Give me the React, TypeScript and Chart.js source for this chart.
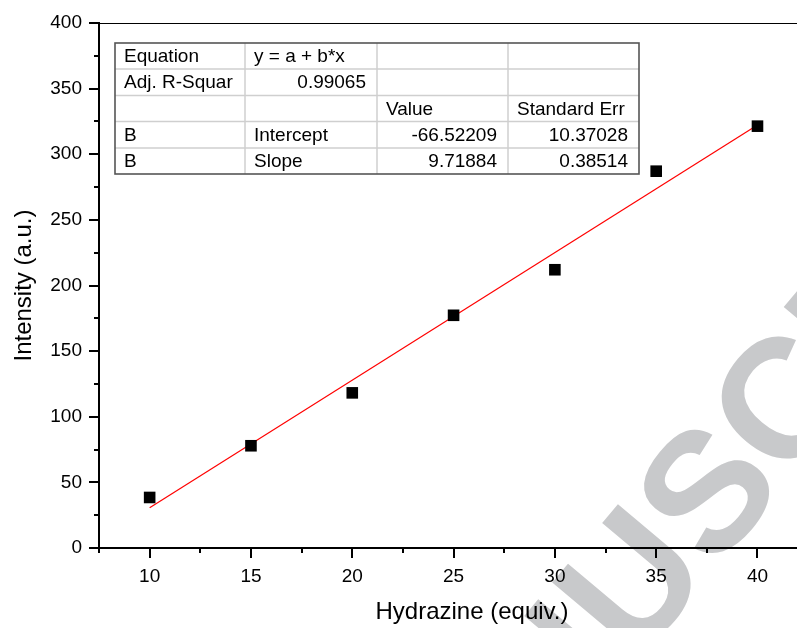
import React, { useEffect, useRef } from "react";
import { Chart, registerables } from "chart.js";

Chart.register(...registerables);

const equivX = [10, 15, 20, 25, 30, 35, 40];
const intensityY = [38.5, 77.9, 118.2, 177.3, 212.0, 287.1, 321.4];
const fitX = [10, 40];
const fitY = [30.7, 322.2];
const xTicks = [10, 15, 20, 25, 30, 35, 40];
const xMinorTicks = [7.5, 12.5, 17.5, 22.5, 27.5, 32.5, 37.5];
const yTicks = [0, 50, 100, 150, 200, 250, 300, 350, 400];
const yMinorTicks = [25, 75, 125, 175, 225, 275, 325, 375];
const tableRows = [
  ["Equation", "y = a + b*x", "", ""],
  ["Adj. R-Squar", "0.99065", "", ""],
  ["", "", "Value", "Standard Err"],
  ["B", "Intercept", "-66.52209", "10.37028"],
  ["B", "Slope", "9.71884", "0.38514"],
];
const xTitle = "Hydrazine (equiv.)";
const yTitle = "Intensity (a.u.)";
const watermark = "ACCEPTED MANUSCRIPT";

const FONT = "'Liberation Sans', Arial, Helvetica, sans-serif";

const watermarkPlugin = {
  id: "watermark",
  beforeDraw(chart: any) {
    const ctx = chart.ctx;
    const size = 170;
    ctx.save();
    ctx.font = `bold ${size}px ${FONT}`;
    ctx.fillStyle = "rgb(200,201,203)";
    ctx.textBaseline = "alphabetic";
    ctx.textAlign = "left";
    const prefixW = ctx.measureText("ACCEPTED MANU").width;
    const sW = ctx.measureText("S").width;
    ctx.translate(704, 489);
    ctx.rotate((-50 * Math.PI) / 180);
    ctx.fillText(watermark, -(prefixW + sW / 2), (0.716 * size) / 2);
    ctx.restore();
  },
};

const decorPlugin = {
  id: "decor",
  afterDraw(chart: any) {
    const ctx = chart.ctx;
    const area = chart.chartArea;
    const xs = chart.scales.x;
    const ys = chart.scales.y;
    ctx.save();
    // top frame line
    ctx.strokeStyle = "#000";
    ctx.lineWidth = 1.2;
    ctx.beginPath();
    ctx.moveTo(area.left, area.top + 0.5);
    ctx.lineTo(area.right, area.top + 0.5);
    ctx.stroke();
    // ticks
    ctx.lineWidth = 2;
    const drawX = (vals: number[], len: number) => {
      vals.forEach((v) => {
        const px = Math.round(xs.getPixelForValue(v));
        if (px < area.left - 1 || px > area.right + 1) return;
        ctx.beginPath();
        ctx.moveTo(px, area.bottom);
        ctx.lineTo(px, area.bottom + len);
        ctx.stroke();
      });
    };
    const drawY = (vals: number[], len: number) => {
      vals.forEach((v) => {
        const py = Math.round(ys.getPixelForValue(v));
        ctx.beginPath();
        ctx.moveTo(area.left, py);
        ctx.lineTo(area.left - len, py);
        ctx.stroke();
      });
    };
    drawX(xTicks, 10);
    drawX(xMinorTicks, 5);
    drawY(yTicks, 10);
    drawY(yMinorTicks, 5);

    // x title
    ctx.fillStyle = "#000";
    ctx.font = `24px ${FONT}`;
    ctx.textAlign = "center";
    ctx.textBaseline = "middle";
    ctx.fillText(xTitle, 472, 612);

    // table
    const colX = [area.left + 16, area.left + 146, area.left + 278, area.left + 409, area.left + 540];
    const rowY = [area.top + 20, area.top + 46, area.top + 72.5, area.top + 98.5, area.top + 125, area.top + 151];
    ctx.fillStyle = "#fff";
    ctx.fillRect(colX[0], rowY[0], colX[4] - colX[0], rowY[5] - rowY[0]);
    ctx.strokeStyle = "#cfcfcf";
    ctx.lineWidth = 1.5;
    for (let i = 1; i < 4; i++) {
      ctx.beginPath();
      ctx.moveTo(colX[i], rowY[0]);
      ctx.lineTo(colX[i], rowY[5]);
      ctx.stroke();
    }
    for (let j = 1; j < 5; j++) {
      ctx.beginPath();
      ctx.moveTo(colX[0], rowY[j]);
      ctx.lineTo(colX[4], rowY[j]);
      ctx.stroke();
    }
    ctx.strokeStyle = "#555";
    ctx.lineWidth = 1.6;
    ctx.strokeRect(colX[0], rowY[0], colX[4] - colX[0], rowY[5] - rowY[0]);
    ctx.fillStyle = "#000";
    ctx.font = `19px ${FONT}`;
    ctx.textBaseline = "middle";
    tableRows.forEach((row, j) => {
      const cy = (rowY[j] + rowY[j + 1]) / 2 + 1;
      row.forEach((txt, i) => {
        if (!txt) return;
        if (/^-?[\d.]+$/.test(txt)) {
          ctx.textAlign = "right";
          ctx.fillText(txt, colX[i + 1] - 11, cy);
        } else {
          ctx.textAlign = "left";
          ctx.fillText(txt, colX[i] + 9, cy);
        }
      });
    });
    ctx.restore();
  },
};

export default function App() {
  const ref = useRef<HTMLCanvasElement | null>(null);
  useEffect(() => {
    if (!ref.current) return;
    const chart = new Chart(ref.current, {
      type: "scatter",
      data: {
        datasets: [
          {
            label: "data",
            data: equivX.map((x, i) => ({ x, y: intensityY[i] })),
            pointStyle: "rect",
            pointRadius: 8.2,
            backgroundColor: "#000",
            borderWidth: 0,
            showLine: false,
          },
          {
            type: "line",
            label: "fit",
            data: fitX.map((x, i) => ({ x, y: fitY[i] })),
            borderColor: "#ff0000",
            borderWidth: 1.2,
            pointRadius: 0,
            showLine: true,
            fill: false,
          } as any,
        ],
      },
      options: {
        animation: false,
        responsive: false,
        devicePixelRatio: 1,
        layout: { autoPadding: false, padding: { top: 23, right: 0, left: 0, bottom: 0 } },
        plugins: { legend: { display: false }, tooltip: { enabled: false } },
        scales: {
          x: {
            type: "linear",
            min: 7.5,
            max: 41.95,
            afterBuildTicks: (s: any) => {
              s.ticks = xTicks.map((v) => ({ value: v }));
            },
            afterFit: (s: any) => {
              s.height = 80;
              s.paddingLeft = 0;
              s.paddingRight = 0;
              s.paddingTop = 0;
              s.paddingBottom = 0;
            },
            grid: { display: false },
            border: { display: true, color: "#000", width: 2 },
            ticks: {
              color: "#000",
              font: { family: FONT, size: 19 },
              padding: 9,
              maxRotation: 0,
              autoSkip: false,
            },
          },
          y: {
            type: "linear",
            min: 0,
            max: 400,
            afterBuildTicks: (s: any) => {
              s.ticks = yTicks.map((v) => ({ value: v }));
            },
            afterFit: (s: any) => {
              s.width = 99;
              s.paddingLeft = 0;
              s.paddingRight = 0;
              s.paddingTop = 0;
              s.paddingBottom = 0;
            },
            grid: { display: false },
            border: { display: true, color: "#000", width: 2 },
            ticks: {
              color: "#000",
              font: { family: FONT, size: 19 },
              padding: 9,
              autoSkip: false,
            },
            title: {
              display: true,
              text: yTitle,
              color: "#000",
              font: { family: FONT, size: 24 },
              padding: { top: 10, bottom: 0 },
            },
          },
        },
      },
      plugins: [watermarkPlugin, decorPlugin],
    } as any);
    return () => chart.destroy();
  }, []);
  return (
    <div style={{ position: "absolute", left: 0, top: 0, width: 797, height: 628, overflow: "hidden", background: "#fff" }}>
      <canvas ref={ref} width={797} height={628} style={{ display: "block" }} />
    </div>
  );
}
